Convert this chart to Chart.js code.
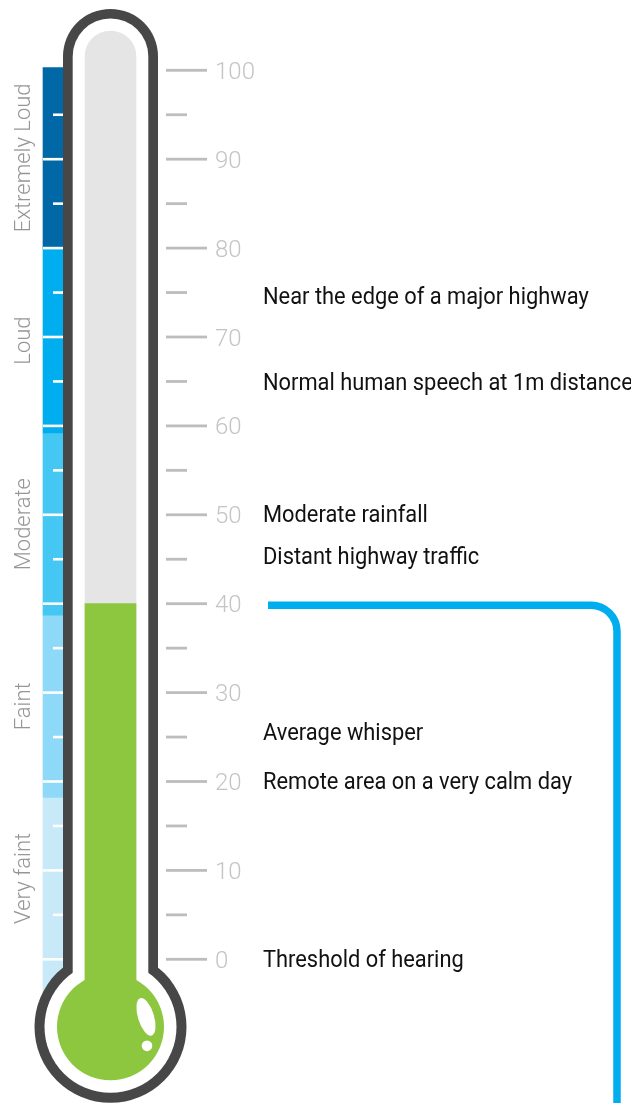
<!DOCTYPE html>
<html><head><meta charset="utf-8">
<script src="https://cdn.jsdelivr.net/npm/chart.js@4.4.1/dist/chart.umd.min.js"></script>
<style>html,body{margin:0;padding:0;background:#fff;overflow:hidden}canvas{display:block}</style>
</head><body>
<canvas id="c" width="631" height="1103"></canvas>
<script>
// ---- data ----
const categories = ["Noise level", "Current level"];
const bandNames = ["Extremely Loud", "Loud", "Moderate", "Faint", "Very faint"];
const bandLow = [80, 59.2, 38.7, 18.2, -5];
const bandHigh = [100.3, 80, 59.2, 38.7, 18.2];
const bandColors = ["#0068a7", "#00aeef", "#45c7f4", "#8ed8f8", "#c7e9f8"];
const levelValue = 40;
const bulbValue = -7.6;
const tubeTopValue = 104.4;
const majorTicks = [0, 10, 20, 30, 40, 50, 60, 70, 80, 90, 100];
const majorTickLabels = ["0", "10", "20", "30", "40", "50", "60", "70", "80", "90", "100"];
const minorTicks = [5, 15, 25, 35, 45, 55, 65, 75, 85, 95];
const bandDividers = [0, 10, 20, 30, 40, 50, 60, 70, 80, 90];
const noteTexts = ["Near the edge of a major highway", "Normal human speech at 1m distance",
  "Moderate rainfall", "Distant highway traffic", "Average whisper",
  "Remote area on a very calm day", "Threshold of hearing"];
const noteValues = [74.5, 64.8, 50, 45.3, 25.5, 20, 0];

// ---- styles ----
const OUTLINE = "#474747", CHANNEL = "#e5e5e5", MERCURY = "#8dc63f", LINEBLUE = "#00aeef";
const TICK = "#bdbdbd", TICKTXT = "#c4c4c4", BANDTXT = "#969696", NOTETXT = "#111111";

const datasets = [];
bandNames.forEach((n, i) => {
  datasets.push({
    label: n, data: [[bandLow[i], bandHigh[i]], null],
    backgroundColor: bandColors[i], barThickness: 20, grouped: false,
    borderWidth: 0, borderSkipped: false, order: 3, clip: false
  });
});
datasets.push({
  label: "Channel", data: [null, [bulbValue, tubeTopValue]],
  backgroundColor: CHANNEL, barThickness: 51, grouped: false, borderWidth: 0,
  borderSkipped: false, borderRadius: {topLeft: 25.5, topRight: 25.5, bottomLeft: 0, bottomRight: 0},
  order: 2, clip: false
});
datasets.push({
  label: "Level", data: [null, [bulbValue, levelValue]],
  backgroundColor: MERCURY, barThickness: 51, grouped: false, borderWidth: 0,
  borderSkipped: false, order: 1, clip: false
});
const CHANNEL_IDX = bandNames.length, LEVEL_IDX = bandNames.length + 1;

function tube(ctx, cx, topY, halfW, bulbY, bulbR) {
  ctx.beginPath();
  ctx.moveTo(cx - halfW, bulbY);
  ctx.lineTo(cx - halfW, topY + halfW);
  ctx.arc(cx, topY + halfW, halfW, Math.PI, 0);
  ctx.lineTo(cx + halfW, bulbY);
  ctx.closePath();
  ctx.fill();
  ctx.beginPath();
  ctx.arc(cx, bulbY, bulbR, 0, Math.PI * 2);
  ctx.fill();
}

const thermo = {
  id: "thermo",
  beforeDatasetDraw(chart, args) {
    if (args.index !== CHANNEL_IDX) return;
    const ctx = chart.ctx, x = chart.scales.x, y = chart.scales.y;
    const bx = x.getPixelForValue(0), cx = x.getPixelForValue(1);
    ctx.save();
    ctx.fillStyle = "#fff";
    bandDividers.forEach(v => { const py = y.getPixelForValue(v); ctx.fillRect(bx - 10, py - 1.3, 20, 2.6); });
    minorTicks.forEach(v => { const py = y.getPixelForValue(v); ctx.fillRect(bx, py - 1.3, 10, 2.6); });
    const topY = y.getPixelForValue(tubeTopValue);
    const bulbY = y.getPixelForValue(bulbValue);
    ctx.fillStyle = OUTLINE;
    tube(ctx, cx, topY - 22.3, 47.5, bulbY, 76);
    ctx.fillStyle = "#fff";
    tube(ctx, cx, topY - 12.8, 37.8, bulbY, 66);
    ctx.restore();
  },
  afterDatasetDraw(chart, args) {
    if (args.index !== LEVEL_IDX) return;
    const ctx = chart.ctx, x = chart.scales.x, y = chart.scales.y;
    const cx = x.getPixelForValue(1), bulbY = y.getPixelForValue(bulbValue);
    ctx.save();
    ctx.fillStyle = MERCURY;
    ctx.beginPath(); ctx.arc(cx, bulbY, 53.5, 0, Math.PI * 2); ctx.fill();
    ctx.fillStyle = "#fff";
    ctx.beginPath(); ctx.ellipse(cx + 35.5, bulbY - 10, 8, 19.5, -0.3, 0, Math.PI * 2); ctx.fill();
    ctx.beginPath(); ctx.arc(cx + 36.5, bulbY + 19, 5.3, 0, Math.PI * 2); ctx.fill();
    ctx.restore();
  },
  afterDraw(chart) {
    const ctx = chart.ctx, x = chart.scales.x, y = chart.scales.y;
    const bx = x.getPixelForValue(0), cx = x.getPixelForValue(1);
    ctx.save();
    ctx.fillStyle = TICK;
    majorTicks.forEach(v => { const py = y.getPixelForValue(v); ctx.fillRect(cx + 55.5, py - 1.4, 41, 2.8); });
    minorTicks.forEach(v => { const py = y.getPixelForValue(v); ctx.fillRect(cx + 55.5, py - 1.4, 21, 2.8); });
    ctx.fillStyle = TICKTXT;
    ctx.font = "300 24px Roboto";
    ctx.textAlign = "left"; ctx.textBaseline = "middle";
    majorTicks.forEach((v, i) => ctx.fillText(majorTickLabels[i], cx + 104.5, y.getPixelForValue(v) + 2.5));
    ctx.fillStyle = BANDTXT;
    ctx.font = "300 22px Roboto";
    ctx.textAlign = "center";
    bandNames.forEach((n, i) => {
      const mid = (Math.max(bandLow[i], 0) + bandHigh[i]) / 2;
      ctx.save();
      ctx.translate(bx - 28.5, y.getPixelForValue(mid));
      ctx.rotate(-Math.PI / 2);
      ctx.fillText(n, 0, 0);
      ctx.restore();
    });
    ctx.fillStyle = NOTETXT;
    ctx.font = "23px Roboto";
    ctx.textAlign = "left";
    noteTexts.forEach((t, i) => {
      ctx.save();
      ctx.translate(cx + 152.5, y.getPixelForValue(noteValues[i]) + 1.5);
      ctx.scale(0.95, 1);
      ctx.fillText(t, 0, 0);
      ctx.restore();
    });
    const ly = y.getPixelForValue(levelValue) + 1.5, r = 26, vx = chart.width - 14;
    ctx.strokeStyle = LINEBLUE; ctx.lineWidth = 7.5; ctx.lineCap = "butt";
    ctx.beginPath();
    ctx.moveTo(cx + 157.5, ly);
    ctx.lineTo(vx - r, ly);
    ctx.arcTo(vx, ly, vx, ly + r, r);
    ctx.lineTo(vx, chart.height + 5);
    ctx.stroke();
    ctx.restore();
  }
};

new Chart(document.getElementById("c"), {
  type: "bar",
  data: { labels: categories, datasets },
  options: {
    responsive: false, animation: false, events: [],
    layout: { padding: { left: 24.25, right: 491.75, top: 70.3, bottom: 143.7 } },
    plugins: { legend: { display: false }, tooltip: { enabled: false } },
    scales: {
      x: { display: false, offset: true },
      y: { display: false, min: 0, max: 100 }
    }
  },
  plugins: [thermo]
});
</script>
</body></html>
